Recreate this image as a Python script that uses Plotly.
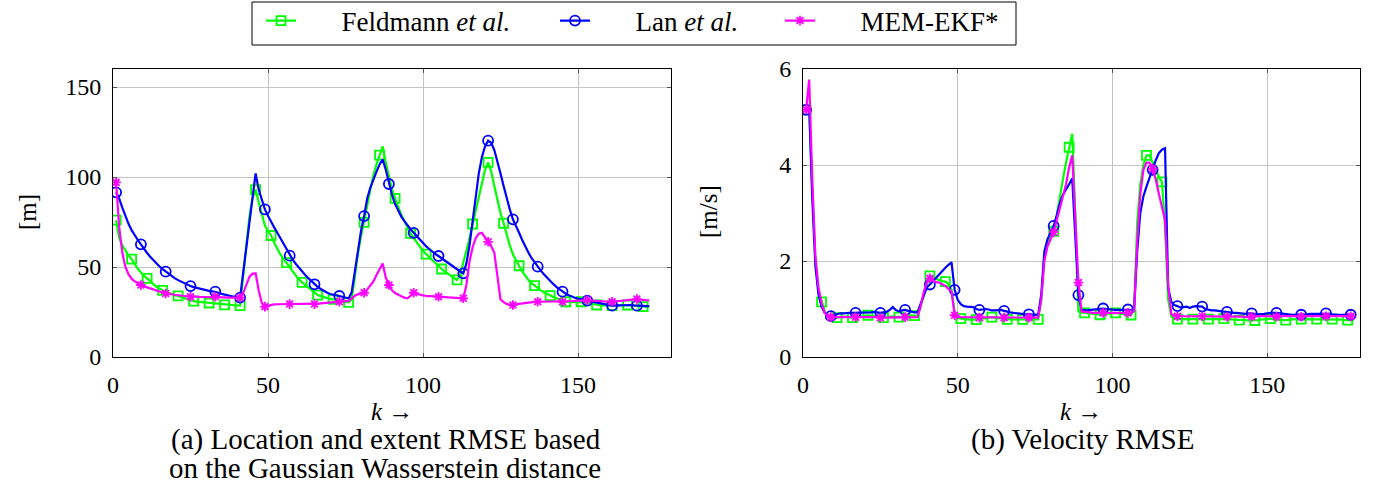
import plotly.graph_objects as go

W, H = 1381, 491

# ---------------- data ----------------
k_left = list(range(1, 174))
k_right = list(range(1, 179))

feld_loc = [76, 66, 62, 59, 56.5, 54.4, 51.5, 49, 47, 45,
            43.7, 42, 40.5, 39, 38, 37, 36.3, 35.6, 35, 34.5,
            34, 33.4, 32.8, 32.2, 31.6, 31, 30.8, 30.6, 30.4, 30.2,
            30, 29.8, 29.6, 29.4, 29.2, 29, 28.9, 28.8, 28.7, 28.6,
            28.5, 45, 62, 78, 88, 93, 86, 79, 73, 70,
            67.5, 63.5, 60, 57, 54.5, 52.4, 50, 47.5, 45, 43,
            41.5, 40, 38.5, 37, 35.5, 34.4, 33.8, 33.2, 32.7, 32.3,
            32, 31.6, 31.2, 30.9, 30.6, 30.4, 32, 45, 57, 67,
            74.8, 84, 93, 101, 107, 112.2, 117, 108, 100, 93,
            88.1, 83, 79, 75.5, 72, 68.7, 66, 63.5, 61, 59,
            57.2, 55.5, 53.5, 51.8, 50.3, 48.9, 47.5, 46.2, 45, 43.8,
            42.8, 46, 52, 59, 66, 73.9, 81, 89, 97, 104,
            108.1, 103, 95, 87, 80, 74.3, 68, 62, 57, 53.5,
            50.7, 47.5, 45, 42.8, 41, 39.6, 38.3, 37, 36, 35,
            34.1, 33.3, 32.6, 31.9, 31.2, 30.7, 30.6, 30.6, 30.7, 30.7,
            30.7, 30.3, 30, 29.6, 29.2, 28.9, 28.8, 28.7, 28.6, 28.5,
            28.5, 28.6, 28.7, 28.8, 28.9, 28.9, 28.7, 28.5, 28.3, 28.1,
            28, 28, 28]

lan_loc = [91.5, 88, 83, 78, 74, 70.5, 67.5, 65, 62.6, 60,
           57.8, 55.7, 53.8, 52, 50.3, 48.8, 47.4, 46, 44.8, 43.7,
           42.7, 41.8, 40.9, 40.1, 39.4, 38.8, 38.3, 37.8, 37.4, 37,
           36.7, 36.5, 36.3, 35.7, 35.1, 34.6, 34.2, 33.8, 33.5, 33.2,
           33, 47, 61, 75, 89, 102, 93, 87, 82, 78.5,
           75, 72, 69, 66, 63, 59.5, 56.3, 54, 51.7, 49.5,
           47.5, 45.6, 43.8, 42, 40.4, 39, 37.8, 36.7, 35.8, 35,
           34.5, 34.1, 33.9, 33.5, 33, 32.5, 36, 47, 60, 70,
           78.3, 88, 94, 99, 103, 107, 109.8, 104, 96.1, 90,
           85, 81.5, 78, 75.5, 73, 71, 69, 67, 65, 63.2,
           61.5, 60, 58.5, 57.2, 56.1, 54.8, 53.5, 52.2, 51, 49.8,
           48.6, 47.5, 46.5, 52, 62, 76, 90, 102, 111, 117,
           120.2, 119, 115, 109, 102, 95, 88, 82, 76.5, 73,
           69, 65, 61, 58, 55, 52.5, 50.2, 48, 46, 44,
           42.3, 40.6, 39, 37.6, 36.3, 35.2, 34.3, 33.5, 32.9, 32.4,
           32, 31.6, 31.3, 31, 30.6, 30.2, 29.8, 29.4, 29.1, 28.8,
           28.5, 28.6, 28.7, 28.8, 28.9, 29, 28.9, 28.7, 28.5, 28.4,
           28.3, 28.3, 28.3]

mem_loc = [97, 72, 58, 50, 46, 43.5, 42, 41, 40, 39.3,
           38.7, 38.1, 37.5, 37, 36.4, 35.8, 35.3, 35, 34.7, 34.5,
           34.3, 34.1, 33.9, 33.7, 33.5, 33.5, 33.5, 33.4, 33.4, 33.4,
           33.4, 33.4, 33.5, 33.3, 33.2, 33.1, 33, 33, 33, 33,
           33, 35.5, 40, 44.5, 46.3, 46.5, 37, 30, 28, 28.5,
           29, 29.2, 29.3, 29.3, 29.4, 29.4, 29.4, 29.4, 29.4, 29.4,
           29.5, 29.5, 29.4, 29.4, 29.4, 29.6, 29.8, 30, 30.2, 30.4,
           30.6, 30.7, 30.7, 31, 31, 31.2, 32.5, 34, 34.8, 35.3,
           35.7, 37.5, 39.5, 42, 45.5, 48.5, 52, 44, 40, 37,
           35.5, 34.5, 33.8, 33, 32.6, 34, 35.7, 35.2, 34.6, 34.2,
           34, 33.8, 33.7, 33.6, 33.5, 33.4, 33.3, 33.2, 33.1, 33,
           32.8, 32.7, 32.6, 40, 53, 61, 66, 68.5, 69, 66.5,
           64, 61.5, 58, 44, 32, 30.5, 29.5, 29, 28.9, 29.2,
           29.5, 29.8, 30, 30.2, 30.4, 30.6, 30.7, 30.7, 30.7, 30.7,
           30.7, 30.7, 30.7, 30.7, 30.7, 30.8, 30.9, 31, 31.2, 31.3,
           31.5, 31.6, 31.7, 31.5, 31.3, 31.1, 31, 30.9, 30.8, 30.7,
           30.7, 30.9, 31.2, 31.5, 31.8, 32, 32.1, 32.2, 32.2, 31.9,
           31.7, 31.5, 31.4]

feld_vel = [5.15, 5.2, 3.5, 2.0, 1.4, 1.15, 0.95, 0.86, 0.83, 0.82,
            0.82, 0.83, 0.84, 0.84, 0.83, 0.82, 0.83, 0.84, 0.85, 0.86,
            0.87, 0.86, 0.85, 0.84, 0.83, 0.82, 0.83, 0.84, 0.84, 0.83,
            0.83, 0.84, 0.85, 0.86, 0.86, 0.86, 0.86, 1.05, 1.3, 1.5,
            1.69, 1.66, 1.62, 1.6, 1.58, 1.57, 1.52, 1.4, 0.95, 0.82,
            0.8, 0.79, 0.79, 0.78, 0.78, 0.78, 0.79, 0.8, 0.81, 0.82,
            0.83, 0.82, 0.81, 0.8, 0.79, 0.785, 0.785, 0.785, 0.785, 0.785,
            0.785, 0.785, 0.785, 0.785, 0.785, 0.785, 1.2, 2.1, 2.35, 2.5,
            2.62, 2.95, 3.35, 3.7, 4.05, 4.37, 4.65, 3.0, 0.95, 0.93,
            0.92, 0.91, 0.9, 0.89, 0.88, 0.88, 0.89, 0.9, 0.91, 0.92,
            0.92, 0.91, 0.9, 0.89, 0.88, 0.875, 1.0, 2.8, 3.6, 4.0,
            4.2, 4.2, 4.05, 3.9, 3.75, 3.65, 2.7, 1.2, 0.85, 0.8,
            0.79, 0.79, 0.79, 0.79, 0.79, 0.79, 0.79, 0.79, 0.79, 0.79,
            0.79, 0.79, 0.8, 0.8, 0.8, 0.8, 0.79, 0.79, 0.78, 0.78,
            0.77, 0.77, 0.77, 0.76, 0.76, 0.76, 0.77, 0.78, 0.79, 0.8,
            0.8, 0.79, 0.78, 0.78, 0.77, 0.77, 0.78, 0.78, 0.79, 0.79,
            0.79, 0.79, 0.79, 0.79, 0.79, 0.79, 0.79, 0.79, 0.79, 0.79,
            0.79, 0.78, 0.78, 0.78, 0.77, 0.77, 0.77, 0.77]

lan_vel = [5.15, 5.2, 3.3, 1.9, 1.3, 1.05, 0.92, 0.87, 0.85, 0.87,
           0.9, 0.91, 0.91, 0.92, 0.92, 0.92, 0.92, 0.93, 0.93, 0.92,
           0.92, 0.93, 0.94, 0.93, 0.92, 0.93, 0.94, 0.98, 1.04, 0.98,
           0.95, 0.97, 0.98, 0.96, 0.94, 0.93, 0.93, 1.1, 1.3, 1.45,
           1.51, 1.58, 1.66, 1.74, 1.8, 1.86, 1.92, 1.97, 1.4, 1.19,
           1.1, 1.06, 1.05, 1.05, 1.04, 1.0, 0.98, 0.99, 1.0, 0.99,
           0.97, 0.97, 0.98, 0.98, 0.96, 0.94, 0.93, 0.92, 0.91, 0.9,
           0.9, 0.89, 0.89, 0.89, 0.88, 0.88, 1.3, 2.2, 2.45, 2.6,
           2.73, 2.95, 3.2, 3.38, 3.48, 3.6, 3.72, 2.5, 1.29, 0.98,
           0.97, 0.97, 0.98, 0.99, 1.0, 1.01, 1.01, 1.0, 0.99, 0.99,
           0.98, 0.98, 0.98, 0.98, 0.99, 0.98, 1.0, 2.2, 3.0, 3.35,
           3.55, 3.75, 3.9, 4.1, 4.25, 4.32, 4.35, 1.45, 1.15, 1.08,
           1.06, 1.03, 1.04, 1.05, 1.02, 1.05, 1.06, 1.05, 1.05, 1.0,
           0.98, 0.97, 0.97, 0.96, 0.95, 0.95, 0.94, 0.93, 0.92, 0.92,
           0.91, 0.9, 0.9, 0.91, 0.91, 0.9, 0.89, 0.89, 0.9, 0.91,
           0.92, 0.92, 0.92, 0.91, 0.9, 0.89, 0.88, 0.88, 0.88, 0.88,
           0.88, 0.88, 0.89, 0.9, 0.9, 0.91, 0.91, 0.91, 0.91, 0.9,
           0.89, 0.88, 0.88, 0.88, 0.88, 0.88, 0.88, 0.88]

mem_vel = [5.15, 5.78, 3.7, 2.1, 1.45, 1.12, 0.92, 0.86, 0.83, 0.83,
           0.83, 0.83, 0.83, 0.83, 0.83, 0.83, 0.83, 0.83, 0.84, 0.84,
           0.84, 0.84, 0.83, 0.83, 0.82, 0.82, 0.82, 0.82, 0.83, 0.83,
           0.83, 0.83, 0.83, 0.83, 0.83, 0.83, 0.83, 1.05, 1.35, 1.55,
           1.64, 1.6, 1.56, 1.55, 1.52, 1.48, 1.42, 1.36, 0.87, 0.84,
           0.83, 0.83, 0.83, 0.82, 0.82, 0.82, 0.82, 0.82, 0.82, 0.82,
           0.82, 0.82, 0.82, 0.82, 0.82, 0.82, 0.82, 0.82, 0.82, 0.82,
           0.82, 0.82, 0.82, 0.82, 0.82, 0.82, 1.2, 2.0, 2.3, 2.45,
           2.6, 2.85, 3.1, 3.34, 3.6, 3.95, 4.2, 2.9, 1.55, 0.95,
           0.94, 0.93, 0.93, 0.92, 0.92, 0.92, 0.92, 0.92, 0.93, 0.93,
           0.93, 0.93, 0.92, 0.92, 0.92, 0.92, 0.95, 2.4, 3.4, 3.9,
           4.05, 4.05, 3.92, 3.7, 3.4, 3.1, 2.85, 1.5, 0.9, 0.85,
           0.85, 0.84, 0.84, 0.85, 0.85, 0.84, 0.84, 0.85, 0.85, 0.85,
           0.84, 0.84, 0.84, 0.85, 0.85, 0.85, 0.84, 0.84, 0.84, 0.84,
           0.84, 0.84, 0.83, 0.83, 0.84, 0.84, 0.85, 0.85, 0.85, 0.85,
           0.85, 0.85, 0.84, 0.84, 0.84, 0.84, 0.84, 0.84, 0.84, 0.84,
           0.84, 0.84, 0.85, 0.85, 0.85, 0.85, 0.85, 0.85, 0.85, 0.85,
           0.85, 0.85, 0.85, 0.85, 0.85, 0.85, 0.85, 0.85]

x_ticks = [0, 50, 100, 150]
y_ticks_left = [0, 50, 100, 150]
y_ticks_right = [0, 2, 4, 6]

names = ["Feldmann <i>et al.</i>", "Lan <i>et al.</i>", "MEM-EKF*"]

# ---------------- styles ----------------
FONT = "Liberation Serif"
colors = ["#00ff00", "#0000ff", "#ff00ff"]
symbols = ["square-open", "circle-open", "asterisk-open"]
msizes = [9, 10, 8]
mark_every = [5, 8, 8]
LW = 2.2
NB = "\u00a0"
legend_ids = ["legend", "legend2", "legend3"]
legend_left_px = [261, 555, 780]


def px(x):
    return x / W


def py(y):
    return 1 - y / H


fig = go.Figure()

panels = [
    (k_left, [feld_loc, lan_loc, mem_loc], "x", "y"),
    (k_right, [feld_vel, lan_vel, mem_vel], "x2", "y2"),
]

for kk, series, xa, ya in panels:
    for i, vals in enumerate(series):
        fig.add_trace(go.Scatter(
            x=kk, y=vals, mode="lines", xaxis=xa, yaxis=ya,
            line=dict(color=colors[i], width=LW), showlegend=False,
            hoverinfo="skip"))
        n = mark_every[i]
        fig.add_trace(go.Scatter(
            x=kk[::n], y=vals[::n], mode="markers", xaxis=xa, yaxis=ya,
            marker=dict(symbol=symbols[i], size=msizes[i], color=colors[i],
                        line=dict(color=colors[i], width=1.8)),
            showlegend=False, hoverinfo="skip"))

# legend entries (one small legend each, framed by a common box)
for i in range(3):
    fig.add_trace(go.Scatter(
        x=[None], y=[None], mode="lines+markers",
        name=NB * 6 + names[i], legend=legend_ids[i],
        line=dict(color=colors[i], width=LW),
        marker=dict(symbol=symbols[i], size=msizes[i], color=colors[i],
                    line=dict(color=colors[i], width=1.8))))

ax_common = dict(
    showgrid=True, gridcolor="#c4c4c4", gridwidth=1,
    showline=True, linecolor="black", linewidth=1, mirror="allticks",
    ticks="inside", ticklen=4, tickcolor="#555555", automargin=False,
    zeroline=False, tickfont=dict(family=FONT, size=24, color="black"),
)

leg_common = dict(orientation="h", xanchor="left", y=py(21), yanchor="middle",
                  bgcolor="rgba(0,0,0,0)", borderwidth=0,
                  font=dict(family=FONT, size=27, color="black"))

fig.update_layout(
    width=W, height=H,
    margin=dict(l=0, r=0, t=0, b=0, autoexpand=False),
    paper_bgcolor="white", plot_bgcolor="white",
    font=dict(family=FONT, size=24, color="black"),
    hovermode=False,
    xaxis=dict(domain=[px(113), px(671)], range=[0, 180], tickvals=x_ticks,
               anchor="y", ticklabelstandoff=6, **ax_common),
    yaxis=dict(domain=[py(357), py(69)], range=[0, 160], tickvals=y_ticks_left,
               anchor="x", ticklabelstandoff=6, **ax_common),
    xaxis2=dict(domain=[px(803), px(1360)], range=[0, 180], tickvals=x_ticks,
                anchor="y2", ticklabelstandoff=6, **ax_common),
    yaxis2=dict(domain=[py(357), py(69)], range=[0, 6], tickvals=y_ticks_right,
                anchor="x2", ticklabelstandoff=6, **ax_common),
    legend=dict(x=px(legend_left_px[0]), **leg_common),
    legend2=dict(x=px(legend_left_px[1]), **leg_common),
    legend3=dict(x=px(legend_left_px[2]), **leg_common),
    showlegend=True,
)

# legend frame
fig.add_shape(type="rect", xref="paper", yref="paper",
              x0=px(252), x1=px(1016), y0=py(45), y1=py(2),
              line=dict(color="black", width=1), fillcolor="rgba(0,0,0,0)", layer="above")

ann = [
    ("<i>k</i> →", 392, 411, 0, 25),
    ("(a) Location and extent RMSE based", 386, 439, 0, 29),
    ("on the Gaussian Wasserstein distance", 385, 468, 0, 29),
    ("<i>k</i> →", 1081, 411, 0, 25),
    ("(b) Velocity RMSE", 1082, 439, 0, 29),
    ("[m]", 27, 212, -90, 25),
    ("[m/s]", 708, 212, -90, 25),
]
for text, x, y, rot, fs in ann:
    fig.add_annotation(text=text, x=px(x), y=py(y), xref="paper", yref="paper",
                       xanchor="center", yanchor="middle", showarrow=False,
                       textangle=rot, font=dict(family=FONT, size=fs, color="black"))

fig.write_html("out.html", config={"displayModeBar": False},
               post_script="document.body.style.margin='0';document.body.style.overflow='hidden';")
